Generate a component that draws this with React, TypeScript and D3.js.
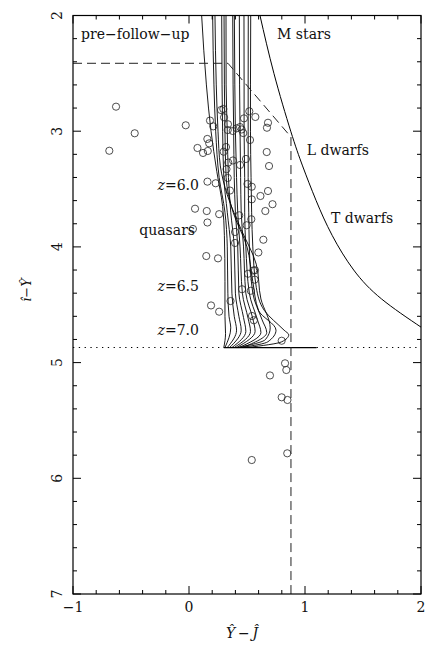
import React from "react";
import * as d3 from "d3";

// ---- data ----
const xMajorTicks = [-1, 0, 1, 2];
const xTickLabels = ["\u22121", "0", "1", "2"];
const yMajorTicks = [2, 3, 4, 5, 6, 7];
const yTickLabels = ["2", "3", "4", "5", "6", "7"];

// observed candidates [Y-J, i-Y]
const candidates: [number, number][] = [
  [-0.629, 2.788], [-0.468, 3.018], [-0.687, 3.169], [-0.028, 2.949], [0.181, 2.908],
  [0.209, 2.958], [0.276, 2.817], [0.296, 2.808], [0.302, 2.88], [0.336, 2.94],
  [0.334, 2.99], [0.377, 2.998], [0.411, 2.975], [0.44, 2.964], [0.454, 2.985],
  [0.468, 3.016], [0.474, 2.889], [0.52, 2.828], [0.572, 2.877], [0.672, 2.97],
  [0.681, 2.927], [0.526, 3.076], [0.158, 3.067], [0.174, 3.105], [0.073, 3.145],
  [0.121, 3.188], [0.162, 3.171], [0.299, 3.177], [0.319, 3.137], [0.67, 3.18],
  [0.491, 3.24], [0.379, 3.253], [0.338, 3.271], [0.44, 3.292], [0.69, 3.301],
  [0.323, 3.328], [0.334, 3.404], [0.353, 3.513], [0.159, 3.436], [0.23, 3.45],
  [0.504, 3.456], [0.541, 3.48], [0.616, 3.56], [0.681, 3.517], [0.541, 3.589],
  [0.72, 3.631], [0.658, 3.69], [0.052, 3.67], [0.153, 3.69], [0.26, 3.717],
  [0.159, 3.789], [0.034, 3.845], [0.433, 3.727], [0.537, 3.761], [0.497, 3.813],
  [0.397, 3.871], [0.397, 3.966], [0.641, 3.938], [0.598, 4.048], [0.149, 4.079],
  [0.25, 4.099], [0.554, 4.204], [0.569, 4.202], [0.509, 4.232], [0.566, 4.283],
  [0.457, 4.366], [0.533, 4.379], [0.358, 4.468], [0.19, 4.506], [0.26, 4.56],
  [0.543, 4.597], [0.559, 4.634], [0.799, 4.811], [0.828, 5.006], [0.839, 5.064],
  [0.698, 5.111], [0.799, 5.3], [0.849, 5.323], [0.847, 5.784], [0.541, 5.842],
];

// quasar model tracks
const quasarTracks: [number, number][][] = [
  [[0.109, 2.0], [0.15, 2.6], [0.19, 3.0], [0.24, 3.35], [0.29, 3.65], [0.305, 3.9], [0.31, 4.3], [0.31, 4.6], [0.315, 4.75], [0.3, 4.87]],
  [[0.204, 2.0], [0.215, 2.6], [0.23, 3.0], [0.26, 3.4], [0.31, 3.7], [0.33, 4.0], [0.335, 4.4], [0.345, 4.6], [0.36, 4.7], [0.31, 4.87]],
  [[0.224, 2.0], [0.235, 2.6], [0.25, 3.0], [0.27, 3.3], [0.33, 3.55], [0.45, 3.85], [0.58, 4.15], [0.62, 4.45], [0.7, 4.7], [0.66, 4.8], [0.42, 4.87]],
  [[0.282, 2.0], [0.285, 2.6], [0.29, 3.0], [0.3, 3.4], [0.33, 3.7], [0.36, 4.0], [0.37, 4.4], [0.39, 4.6], [0.41, 4.72], [0.33, 4.87]],
  [[0.302, 2.0], [0.305, 2.6], [0.31, 3.0], [0.32, 3.4], [0.38, 3.7], [0.5, 4.0], [0.55, 4.3], [0.6, 4.55], [0.75, 4.72], [0.68, 4.82], [0.45, 4.87]],
  [[0.319, 2.0], [0.32, 2.6], [0.33, 3.0], [0.34, 3.4], [0.36, 3.7], [0.39, 4.0], [0.4, 4.4], [0.43, 4.6], [0.45, 4.72], [0.35, 4.87]],
  [[0.377, 2.0], [0.38, 2.6], [0.385, 3.0], [0.39, 3.4], [0.4, 3.7], [0.42, 4.0], [0.43, 4.4], [0.47, 4.61], [0.49, 4.73], [0.37, 4.87]],
  [[0.391, 2.0], [0.395, 2.6], [0.4, 3.0], [0.41, 3.4], [0.42, 3.7], [0.44, 4.0], [0.46, 4.4], [0.51, 4.62], [0.53, 4.73], [0.39, 4.87]],
  [[0.434, 2.0], [0.436, 2.6], [0.44, 3.0], [0.445, 3.4], [0.45, 3.7], [0.47, 4.0], [0.49, 4.4], [0.55, 4.62], [0.57, 4.73], [0.41, 4.87]],
  [[0.474, 2.0], [0.475, 2.6], [0.475, 3.0], [0.48, 3.4], [0.48, 3.7], [0.49, 4.0], [0.52, 4.4], [0.59, 4.63], [0.62, 4.74], [0.43, 4.87]],
  [[0.511, 2.0], [0.51, 2.6], [0.51, 3.0], [0.51, 3.4], [0.515, 3.7], [0.52, 4.0], [0.55, 4.4], [0.63, 4.63], [0.67, 4.74], [0.46, 4.87]],
  [[0.532, 2.0], [0.53, 2.6], [0.53, 3.0], [0.535, 3.4], [0.54, 3.7], [0.55, 4.0], [0.58, 4.35], [0.65, 4.55], [0.82, 4.72], [0.86, 4.76], [0.8, 4.82], [0.5, 4.87]],
];

// stellar locus M -> L -> T
const stellarLocus: [number, number][] = [
  [0.612, 2.0], [0.732, 2.5], [0.877, 3.0], [0.979, 3.3], [1.096, 3.6], [1.234, 3.9],
  [1.42, 4.2], [1.66, 4.45], [2.01, 4.7],
];

// selection box (dashed)
const selectionBox: [number, number][] = [
  [-1, 2.413], [0.336, 2.413], [0.879, 3.05], [0.879, 7.0],
];

const trackFloor: [number, number][] = [[0.3, 4.87], [1.1, 4.87]];
const dropoutLimit = 4.87;

const textLabels = [
  { t: "pre\u2212follow\u2212up", x: -0.93, y: 2.203, anchor: "start" },
  { t: "M stars", x: 0.759, y: 2.203, anchor: "start" },
  { t: "L dwarfs", x: 1.015, y: 3.206, anchor: "start" },
  { t: "T dwarfs", x: 1.224, y: 3.796, anchor: "start" },
  { t: "quasars", x: 0.052, y: 3.897, anchor: "end" },
];
const zLabels = [
  { t: "6.0", x: 0.086, y: 3.508 },
  { t: "6.5", x: 0.086, y: 4.381 },
  { t: "7.0", x: 0.086, y: 4.761 },
];

export default function App() {
  const W = 436, H = 668;
  const x = d3.scaleLinear().domain([-1, 2]).range([73, 421]);
  const y = d3.scaleLinear().domain([2, 7]).range([15.5, 594]);
  const [x0, x1] = x.range();
  const [y0, y1] = y.range();

  const trackLine = d3.line<[number, number]>().x(d => x(d[0])).y(d => y(d[1])).curve(d3.curveMonotoneY);
  const smooth = d3.line<[number, number]>().x(d => x(d[0])).y(d => y(d[1])).curve(d3.curveNatural);
  const straight = d3.line<[number, number]>().x(d => x(d[0])).y(d => y(d[1]));

  const xMinor = d3.range(-1, 2.0001, 0.2);
  const yMinor = d3.range(2, 7.0001, 0.2);
  const isMajor = (v: number) => Math.abs(v - Math.round(v)) < 1e-6;
  const font = "'DejaVu Serif', serif";

  return (
    <svg width={W} height={H} style={{ position: "absolute", left: 0, top: 0, background: "#fff" }} fontFamily={font}>
      <defs>
        <clipPath id="plot"><rect x={x0} y={y0} width={x1 - x0} height={y1 - y0} /></clipPath>
      </defs>
      <g clipPath="url(#plot)" fill="none" stroke="#000">
        {quasarTracks.map((tr, i) => (
          <path key={i} d={trackLine(tr) || ""} strokeWidth={0.9} />
        ))}
        <path d={straight(trackFloor) || ""} strokeWidth={1.3} />
        <line x1={x0} x2={x1} y1={y(dropoutLimit)} y2={y(dropoutLimit)} strokeWidth={1.1} strokeDasharray="1.3,4.5" />
        <path d={straight(selectionBox) || ""} strokeWidth={1} strokeDasharray="9,5" stroke="#222" />
        <path d={smooth(stellarLocus) || ""} strokeWidth={1} />
        {candidates.map((c, i) => (
          <circle key={i} cx={x(c[0])} cy={y(c[1])} r={3.6} strokeWidth={0.8} stroke="#222" />
        ))}
      </g>
      {/* frame */}
      <rect x={x0} y={y0} width={x1 - x0} height={y1 - y0} fill="none" stroke="#000" strokeWidth={1.2} />
      <g stroke="#000" strokeWidth={1}>
        {xMinor.map((v, i) => {
          const L = isMajor(v) ? 8 : 4;
          return (
            <g key={i}>
              <line x1={x(v)} x2={x(v)} y1={y1} y2={y1 - L} />
              <line x1={x(v)} x2={x(v)} y1={y0} y2={y0 + L} />
            </g>
          );
        })}
        {yMinor.map((v, i) => {
          const L = isMajor(v) ? 8 : 4;
          return (
            <g key={i}>
              <line x1={x0} x2={x0 + L} y1={y(v)} y2={y(v)} />
              <line x1={x1} x2={x1 - L} y1={y(v)} y2={y(v)} />
            </g>
          );
        })}
      </g>
      {/* tick labels */}
      <g fontSize={14} fill="#111">
        {xMajorTicks.map((v, i) => (
          <text key={i} x={x(v)} y={611.5} textAnchor="middle">{xTickLabels[i]}</text>
        ))}
        {yMajorTicks.map((v, i) => (
          <text key={i} transform={`translate(62,${y(v)}) rotate(-90)`} textAnchor="middle">{yTickLabels[i]}</text>
        ))}
      </g>
      {/* axis titles */}
      <text x={242} y={638} fontSize={14} textAnchor="middle" fontStyle="italic" fill="#111">{"\u0176\u2009\u2212\u2009\u0134"}</text>
      <text transform={`translate(31,290) rotate(-90)`} fontSize={13} textAnchor="middle" fontStyle="italic" fill="#111">{"\u00EE\u2212\u0176"}</text>
      {/* annotations */}
      <g fontSize={14} fill="#111">
        {textLabels.map((l, i) => (
          <text key={i} x={x(l.x)} y={y(l.y)} textAnchor={l.anchor as any}>{l.t}</text>
        ))}
        {zLabels.map((l, i) => (
          <text key={i} x={x(l.x)} y={y(l.y)} textAnchor="end">
            <tspan fontStyle="italic">z</tspan>={l.t}
          </text>
        ))}
      </g>
    </svg>
  );
}
